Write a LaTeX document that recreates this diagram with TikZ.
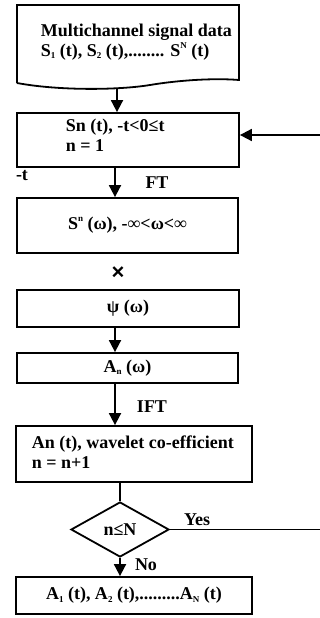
\documentclass[tikz,border=0pt]{standalone}
\usepackage{fontspec}
\setmainfont{Liberation Serif}
\newfontfamily\symsans{Liberation Sans}
\usetikzlibrary{arrows.meta,shapes.geometric,calc}
\newcommand\mysub[1]{\raisebox{-0.3ex}{\fontsize{9}{9}\selectfont #1}}
\newcommand\mysup[1]{\raisebox{1.0ex}{\fontsize{9}{9}\selectfont #1}}
\begin{document}
\begin{tikzpicture}[x=1pt,y=-1pt,
  line width=1.8pt,
  every node/.style={font=\fontsize{18}{20}\selectfont\bfseries, inner sep=0pt},
  box/.style={draw, rectangle, line width=1.8pt},
  arr/.style={-{Triangle[width=12pt,length=12pt]}}]
\useasboundingbox (0,0) rectangle (320,618);
% document shape
\coordinate (dtl) at (17,5);
\coordinate (dtr) at (239,5);
\coordinate (dbr) at (239,80);
\coordinate (dbl) at (17,83);
\coordinate (docb) at (117,88);
\draw (dbl) -- (dtl) -- (dtr) -- (dbr) .. controls (215,78) and (180,80) .. (150,85) .. controls (120,90) and (60,91) .. (dbl);
\node[anchor=west,align=left] (doctext) at (40,42) {Multichannel signal data\\S\mysub{1} (t), S\mysub{2} (t),........ S\mysup{N} (t)};
% box 2
\node[box, minimum width=222pt, minimum height=54pt] (b2) at (128,140) {};
\node[anchor=west,align=left] (b2t) at (65,135) {Sn (t), -t<0≤t\\n = 1};
\draw[arr] (docb) -- (docb |- b2.north);
% loop input
\coordinate (loopin) at (320,135);
\draw[arr] (loopin) -- (b2.east |- loopin);
\node (mt) at (22,176) {-t};
% box 3
\node[box, minimum width=221pt, minimum height=55pt] (b3) at (127.5,225.5) {S\mysup{n} (ω), -∞<ω<∞};
\draw[arr] ($(b2.south)+(-13,0)$) -- ($(b3.north)+(-12.5,0)$);
\node (ft) at (157,183) {FT};
\node[font=\fontsize{22}{24}\selectfont\symsans\bfseries] (times) at (118,273) {×};
% box 4
\node[box, minimum width=222pt, minimum height=37pt] (b4) at (128,308.5) {ψ (ω)};
% box 5
\node[box, minimum width=221pt, minimum height=30pt] (b5) at (127.5,368) {A\mysub{n} (ω)};
\draw[arr] ($(b4.south)+(-13,0)$) -- ($(b5.north)+(-12.5,0)$);
% box 6
\node[box, minimum width=236pt, minimum height=56pt] (b6) at (134,454) {};
\node[anchor=west,align=left] (b6t) at (31,452) {An (t), wavelet co-efficient\\n = n+1};
\draw[arr] ($(b5.south)+(-12.5,0)$) -- ($(b6.north)+(-19,0)$);
\node (ift) at (152,407) {IFT};
% diamond
\node[draw, diamond, aspect=1.78, minimum width=98pt, minimum height=55pt, line width=1.8pt] (dia) at (120,529.5) {n≤N};
\draw ($(b6.south)+(-14,0)$) -- (dia.north);
\draw (dia.east) -- (dia.east -| loopin);
\node (yes) at (197,520) {Yes};
% box 7
\node[box, minimum width=236pt, minimum height=37pt] (b7) at (134,595.5) {A\mysub{1} (t), A\mysub{2} (t),.........A\mysub{N} (t)};
\draw[arr] (dia.south) -- (dia.south |- b7.north);
\node (no) at (146,565) {No};
\end{tikzpicture}
\end{document}
